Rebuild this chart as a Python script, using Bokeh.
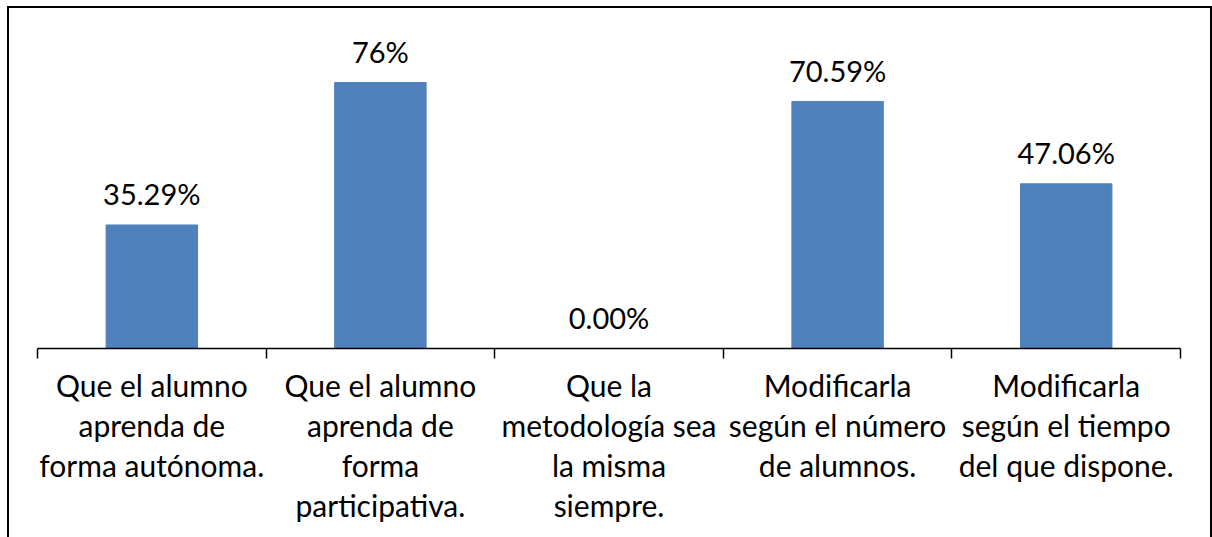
from bokeh.plotting import figure
from bokeh.models import ColumnDataSource, FixedTicker, Range1d
from bokeh.core.properties import value
from bokeh.embed import file_html
from bokeh.resources import INLINE

categories = [
    "Que el alumno\naprenda de\nforma autónoma.",
    "Que el alumno\naprenda de\nforma\nparticipativa.",
    "Que la\nmetodología sea\nla misma\nsiempre.",
    "Modificarla\nsegún el número\nde alumnos.",
    "Modificarla\nsegún el tiempo\ndel que dispone.",
]
values = [35.29, 76.0, 0.0, 70.59, 47.06]
value_labels = ["35.29%", "76%", "0.00%", "70.59%", "47.06%"]

FONT = "Lato"
xs = [i + 0.5 for i in range(len(values))]
src = ColumnDataSource(dict(x=xs, top=values, lab=value_labels))

p = figure(width=1205, height=531, output_backend="svg", toolbar_location=None,
           x_range=Range1d(0, 5), y_range=Range1d(0, 97.71),
           min_border_left=30, min_border_right=32, min_border_top=0,
           min_border_bottom=189)
p.styles = {"margin": "6px 0 0 7px",
            "box-shadow": "inset 2px 2px 0 0 black, inset -2px 0 0 0 black"}
p.border_fill_alpha = 0
p.background_fill_alpha = 0
p.outline_line_color = None
p.xgrid.visible = False
p.ygrid.visible = False
p.yaxis.visible = False

p.vbar(x="x", top="top", width=0.4, bottom=0, source=src,
       fill_color="#4F81BD", line_color="#4F81BD")
p.text(x="x", y="top", text="lab", source=src, text_align="center",
       text_baseline="alphabetic", y_offset=-31, text_font=value(FONT),
       text_font_size="29px", text_color="black")

ax = p.xaxis[0]
ax.ticker = FixedTicker(ticks=xs, minor_ticks=[0, 1, 2, 3, 4, 5])
ax.major_label_overrides = {x: c for x, c in zip(xs, categories)}
ax.major_tick_out = 0
ax.major_tick_in = 0
ax.minor_tick_out = 10
ax.minor_tick_in = 0
ax.minor_tick_line_color = "black"
ax.minor_tick_line_width = 1.5
ax.axis_line_color = "black"
ax.axis_line_width = 1.5
ax.major_label_text_font = FONT
ax.major_label_text_font_size = "30px"
ax.major_label_text_line_height = 1.12
ax.major_label_text_color = "black"
ax.major_label_standoff = 8
ax.major_label_orientation = "horizontal"

open("out.html", "w").write(file_html(p, INLINE))
